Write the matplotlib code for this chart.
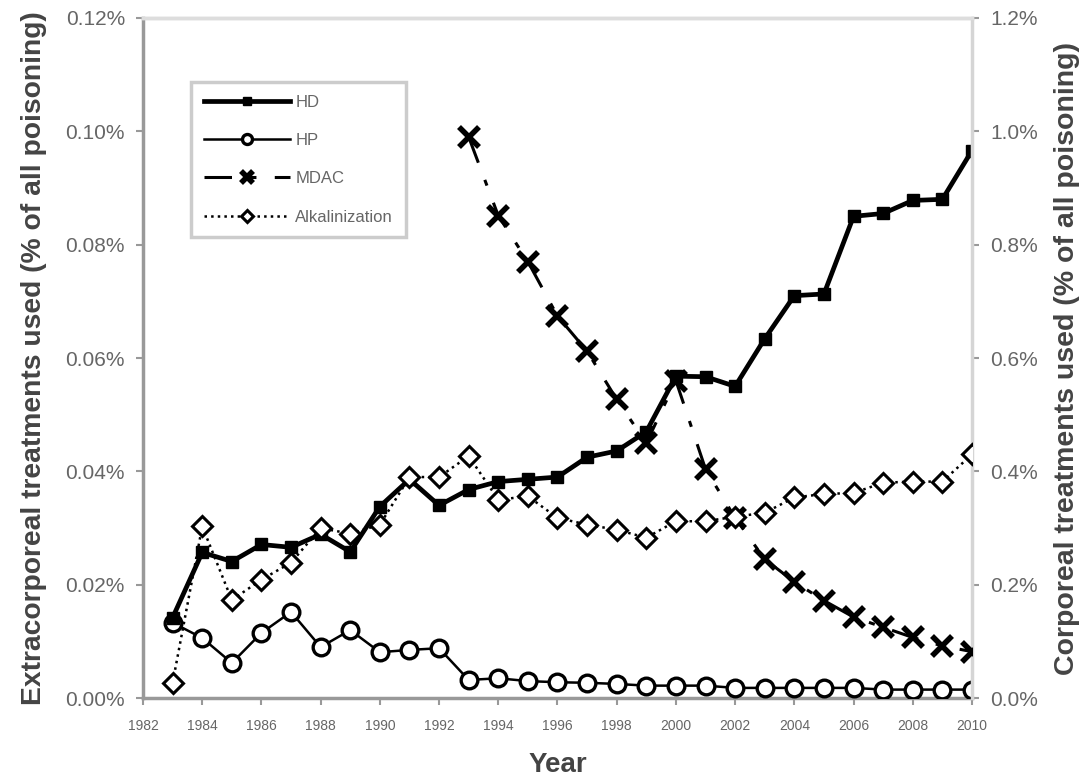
import numpy as np
import matplotlib
matplotlib.use("Agg")
import matplotlib.pyplot as plt
from matplotlib.ticker import FuncFormatter

plt.rcParams['font.family'] = ['Liberation Sans', 'DejaVu Sans']

# DATA (% of all poisonings)
years = list(range(1983, 2011))
hd = [0.0142, 0.0257, 0.0241, 0.0271, 0.0266, 0.0289, 0.0258, 0.0338, 0.0386, 0.0340,
      0.0368, 0.0382, 0.0386, 0.0390, 0.0425, 0.0436, 0.0470, 0.0568, 0.0567, 0.0550,
      0.0634, 0.0710, 0.0713, 0.0850, 0.0855, 0.0878, 0.0880, 0.0966]
hp = [0.0133, 0.0106, 0.0062, 0.0115, 0.0152, 0.0090, 0.0120, 0.0081, 0.0085, 0.0088,
      0.0032, 0.0035, 0.0030, 0.0028, 0.0027, 0.0025, 0.0022, 0.0022, 0.0022, 0.0018,
      0.0018, 0.0018, 0.0018, 0.0018, 0.0015, 0.0015, 0.0015, 0.0015]
mdac_years = list(range(1993, 2011))
mdac = [0.99, 0.851, 0.77, 0.674, 0.612, 0.527, 0.45, 0.56, 0.404, 0.318,
        0.245, 0.205, 0.172, 0.143, 0.125, 0.107, 0.092, 0.082]
alk = [0.027, 0.303, 0.173, 0.209, 0.239, 0.300, 0.290, 0.306, 0.390, 0.390,
       0.427, 0.350, 0.356, 0.318, 0.306, 0.297, 0.283, 0.312, 0.312, 0.320,
       0.327, 0.354, 0.360, 0.362, 0.380, 0.382, 0.382, 0.430]

fig = plt.figure(figsize=(10.86, 7.80), dpi=100)
ax = fig.add_axes([0.1317, 0.105, 0.7633, 0.872])
ax2 = ax.twinx()

# left axis: extracorporeal
l1, = ax.plot(years, hd, color='black', lw=3.4, marker='s', ms=9, label='HD', zorder=4)
l2, = ax.plot(years, hp, color='black', lw=1.8, marker='o', ms=12, mfc='white',
              mec='black', mew=2.4, label='HP', zorder=3)
# right axis: corporeal
l3, = ax2.plot(mdac_years, mdac, color='black', lw=2.2, ls=(0, (9, 6, 2, 6)), marker='x',
               ms=14, mew=4, label='MDAC', zorder=3)
l4, = ax2.plot(years, alk, color='black', lw=1.8, ls=':', marker='D', ms=10, mfc='white',
               mec='black', mew=2.2, label='Alkalinization', zorder=3)

ax.set_xlim(1982, 2010)
ax.set_ylim(0, 0.12)
ax2.set_ylim(0, 1.2)
ax.set_xticks(range(1982, 2011, 2))
ax.set_yticks(np.arange(0, 0.1201, 0.02))
ax2.set_yticks(np.arange(0, 1.201, 0.2))
ax.yaxis.set_major_formatter(FuncFormatter(lambda v, p: f'{v:.2f}%'))
ax2.yaxis.set_major_formatter(FuncFormatter(lambda v, p: f'{v:.1f}%'))

for a in (ax, ax2):
    a.tick_params(colors='#999999', labelcolor='#666666', labelsize=15, length=5, width=1.5,
                  pad=8)
ax.tick_params(axis='x', labelsize=10, pad=10)
ax.spines['left'].set_color('#999999')
ax.spines['bottom'].set_color('#999999')
ax.spines['left'].set_linewidth(2.5)
ax.spines['bottom'].set_linewidth(2.5)
for a in (ax, ax2):
    a.spines['top'].set_color('#dddddd')
    a.spines['top'].set_linewidth(2.5)
ax2.spines['right'].set_color('#d5d5d5')
ax2.spines['right'].set_linewidth(2.5)
ax2.spines['left'].set_visible(False)
ax2.spines['bottom'].set_visible(False)

ax.set_xlabel('Year', fontsize=20, fontweight='bold', color='#444444', labelpad=14)
ax.set_ylabel('Extracorporeal treatments used (% of all poisoning)', fontsize=20.3,
              fontweight='bold', color='#444444')
ax2.set_ylabel('Corporeal treatments used (% of all poisoning)', fontsize=20.5,
               fontweight='bold', color='#444444', rotation=90)
ax.yaxis.set_label_coords(-0.116, 0.5)
ax2.yaxis.set_label_coords(1.099, 0.5)

leg = ax.legend(handles=[l1, l2, l3, l4], loc='upper left', bbox_to_anchor=(0.048, 0.918),
                fontsize=12, handlelength=5.2, handletextpad=0.3, labelspacing=1.4,
                fancybox=False, edgecolor='#cccccc', framealpha=1, borderpad=0.75,
                markerscale=0.6)
leg.get_frame().set_linewidth(2.5)
leg.set_zorder(10)
for t in leg.get_texts():
    t.set_color('#666666')

fig.savefig('out.png', dpi=100)
